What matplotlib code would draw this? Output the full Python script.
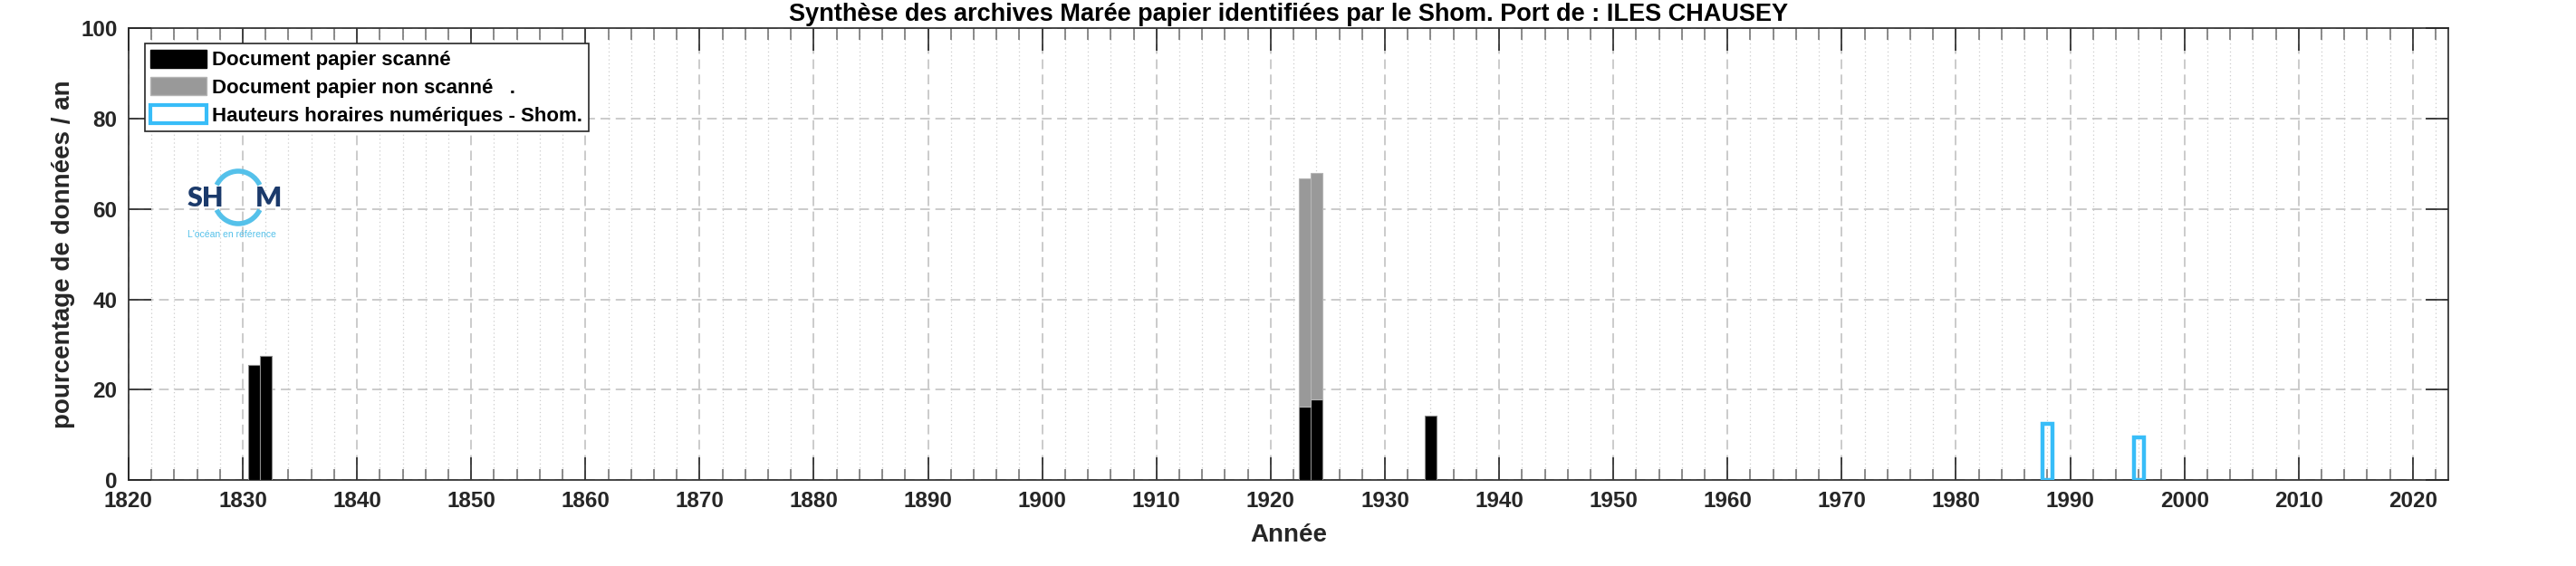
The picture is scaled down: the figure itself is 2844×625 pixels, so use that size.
import numpy as np
import matplotlib.pyplot as plt
from matplotlib.patches import Arc, Patch
from matplotlib.ticker import MultipleLocator

plt.rcParams['font.family'] = ['Liberation Sans', 'DejaVu Sans']

# donnees
annees_scan = [1831, 1832, 1923, 1924, 1934]
pct_scan = [25.4, 27.4, 16.3, 17.8, 14.2]
annees_non_scan = [1923, 1924]
pct_non_scan = [50.5, 50.2]
annees_num = [1988, 1996]
pct_num = [12.4, 9.4]

titre = "Synthèse des archives Marée papier identifiées par le Shom. Port de : ILES CHAUSEY"
legendes = ["Document papier scanné", "Document papier non scanné   .",
            "Hauteurs horaires numériques - Shom."]

gris_txt = '#262626'
bleu = '#38bdf8'

fig = plt.figure(figsize=(28.44, 6.25), dpi=100)
ax = fig.add_axes([0.0499, 0.152, 0.9005, 0.798])

# barres
ax.bar(annees_scan, pct_scan, width=1, color='black', edgecolor='#8a8a8a', lw=0.8, zorder=3)
bas = [pct_scan[annees_scan.index(a)] if a in annees_scan else 0 for a in annees_non_scan]
ax.bar(annees_non_scan, pct_non_scan, bottom=bas, width=1, color='#999999',
       edgecolor='#b5b5b5', lw=0.8, zorder=3)
ax.bar(annees_num, pct_num, width=0.9, facecolor='none', edgecolor=bleu, lw=3.2, zorder=3)

ax.set_xlim(1820, 2023.1)
ax.set_ylim(0, 100)
ax.xaxis.set_major_locator(MultipleLocator(10))
ax.xaxis.set_minor_locator(MultipleLocator(2))
ax.yaxis.set_major_locator(MultipleLocator(20))

ax.grid(which='major', axis='both', color='#bdbdbd', ls=(0, (7, 4)), lw=1.1, zorder=0)
ax.grid(which='minor', axis='x', color='#cccccc', ls=(0, (1, 2.5)), lw=0.9, zorder=0)

ax.tick_params(which='major', direction='in', length=18, width=1.2, color=gris_txt,
               top=True, right=True, labelsize=17.5, labelcolor=gris_txt, pad=9)
ax.tick_params(which='minor', direction='in', length=9, width=1.2, color='#777777',
               top=True, right=True)
for lab in ax.get_xticklabels() + ax.get_yticklabels():
    lab.set_fontweight('bold')
for s in ax.spines.values():
    s.set_color(gris_txt)
    s.set_linewidth(1.2)

ax.set_title(titre, fontsize=19.5, fontweight='bold', color='black', pad=6)
ax.set_xlabel("Année", fontsize=20, fontweight='bold', color=gris_txt, labelpad=9)
ax.set_ylabel("pourcentage de données / an", fontsize=20, fontweight='bold',
              color=gris_txt, labelpad=4)

poignees = [Patch(facecolor='black', edgecolor='black'),
            Patch(facecolor='#999999', edgecolor='#b5b5b5'),
            Patch(facecolor='white', edgecolor=bleu, lw=3)]
leg = ax.legend(poignees, legendes, loc='upper left', bbox_to_anchor=(0.0069, 0.966),
                fancybox=False, framealpha=1, edgecolor=gris_txt,
                prop={'weight': 'bold', 'size': 16}, handlelength=2.8, handleheight=1.0,
                borderpad=0.3, labelspacing=0.36, handletextpad=0.25, borderaxespad=0)
leg.get_frame().set_linewidth(1.2)

# logo Shom
lg = fig.add_axes([200 / 2844, 1 - 268 / 625, 112 / 2844, 85 / 625])
lg.set_xlim(0, 112)
lg.set_ylim(85, 0)
lg.axis('off')
lg.text(26.5, 36, "SH", color='#1b3a6b', fontsize=22, fontweight='heavy', family='Lato',
        ha='center', va='center')
lg.text(97, 36, "M", color='#1b3a6b', fontsize=22, fontweight='heavy', family='Lato',
        ha='center', va='center')
lg.add_patch(Arc((63, 35), 54, 58, theta1=210, theta2=330, color='#55c1ea', lw=4))
lg.add_patch(Arc((63, 35), 54, 58, theta1=30, theta2=150, color='#55c1ea', lw=4))
lg.text(56, 76, "L'océan en référence", color='#55c1ea', fontsize=7.5, ha='center', va='center')

fig.savefig('out.png', dpi=100)
